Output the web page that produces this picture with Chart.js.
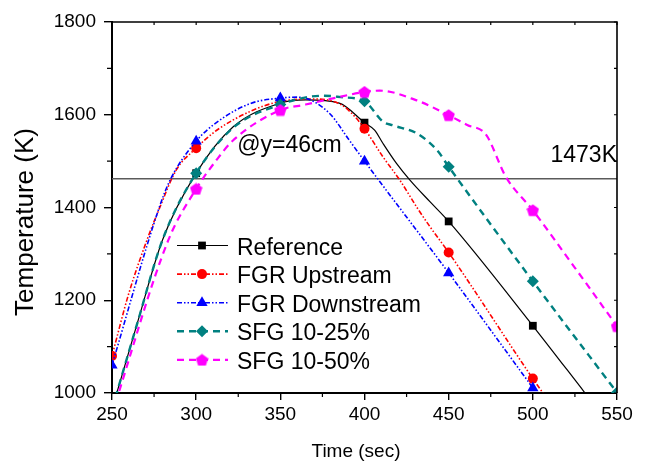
<!DOCTYPE html>
<html>
<head>
<meta charset="utf-8">
<script src="https://cdn.jsdelivr.net/npm/chart.js@4.4.1/dist/chart.umd.min.js"></script>
<style>
  html, body { margin: 0; padding: 0; background: #fff; }
  #wrap { width: 650px; height: 466px; }
</style>
</head>
<body>
<div id="wrap"><canvas id="tempChart" width="650" height="466"></canvas></div>
<script>
'use strict';

// ---- data (time in sec, temperature in K) ----
const refX = [250, 265, 280, 300, 322, 350, 365, 385, 400, 406, 411, 419, 427, 439, 450, 500, 531];
const refY = [965, 1150, 1330, 1474, 1574, 1625, 1632, 1625, 1583, 1567, 1538, 1495, 1459, 1412, 1370, 1145, 1000];

const upX = [250, 260, 271, 278.5, 288, 300, 312, 332, 349, 370, 386, 394, 400, 411, 421, 431, 439, 450, 500, 506];
const upY = [1080, 1215, 1332, 1401, 1480, 1528, 1566, 1607, 1628, 1634, 1622, 1597, 1570, 1509, 1459, 1401, 1358, 1303, 1031, 1000];

const downX = [250, 277.5, 284.5, 300, 312, 332, 350, 360, 369, 380, 390, 400, 450, 500];
const downY = [1060, 1394, 1459, 1543, 1583, 1624, 1636, 1638, 1630, 1600, 1550, 1500, 1259, 1011];

const sfg25X = [250, 265, 280, 300, 322, 350, 366, 376, 386, 400, 411, 417, 431, 443, 450, 500, 550];
const sfg25Y = [965, 1150, 1330, 1474, 1572, 1622, 1638, 1641, 1638, 1629, 1585, 1577, 1560, 1524, 1488, 1241, 1001];

const sfg50X = [250, 283.5, 300, 312, 322, 350, 365, 382, 400, 409, 431, 450, 461, 472, 484, 500, 525, 550];
const sfg50Y = [955, 1330, 1440, 1502, 1545, 1610, 1622, 1636, 1649, 1652, 1631, 1599, 1578, 1558, 1466, 1394, 1270, 1144];

const seriesNames = ['Reference', 'FGR Upstream', 'FGR Downstream', 'SFG 10-25%', 'SFG 10-50%'];

// horizontal reference line (drawn level in the figure, labelled 1473K)
const limitX = [250, 550];
const limitY = [1462, 1462];
const limitText = '1473K';
const heightText = '@y=46cm';

const xTicks = [250, 300, 350, 400, 450, 500, 550];
const yTicks = [1000, 1200, 1400, 1600, 1800];
const xTitle = 'Time (sec)';
const yTitle = 'Temperature (K)';

// ---- helpers ----
const pts = (xs, ys) => xs.map((x, i) => ({ x, y: ys[i] }));
// markers only at the 50 s stations that sit inside the frame
const markAt = (r) => (ctx) => {
  const p = ctx.raw;
  return p && p.x % 50 === 0 && p.y >= 995 ? r : 0;
};

function pentagon(size, color) {
  const c = document.createElement('canvas');
  c.width = c.height = size;
  const g = c.getContext('2d');
  const r = size / 2, cx = size / 2, cy = size / 2 + 0.6;
  g.fillStyle = color;
  g.beginPath();
  for (let i = 0; i < 5; i++) {
    const a = -Math.PI / 2 + i * 2 * Math.PI / 5;
    const px = cx + r * Math.cos(a), py = cy + r * Math.sin(a);
    i ? g.lineTo(px, py) : g.moveTo(px, py);
  }
  g.closePath();
  g.fill();
  return c;
}

const FONT = '"Liberation Sans", Arial, Helvetica, sans-serif';
const magentaPent = pentagon(13, '#ff00ff');

const styles = [
  { color: '#000000', dash: [], width: 1.2, point: 'rect', r: 5.5 },
  { color: '#ff0000', dash: [5, 2, 1.5, 2, 1.5, 2], width: 1.6, point: 'circle', r: 5 },
  { color: '#0000ff', dash: [5, 2, 1.5, 2, 1.5, 2], width: 1.6, point: 'triangle', r: 6.5 },
  { color: '#008080', dash: [7, 5], width: 2.4, point: 'rectRot', r: 6 },
  { color: '#ff00ff', dash: [7, 5], width: 2.2, point: magentaPent, r: 6.5 },
];
const series = [pts(refX, refY), pts(upX, upY), pts(downX, downY), pts(sfg25X, sfg25Y), pts(sfg50X, sfg50Y)];

const datasets = series.map((data, i) => {
  const s = styles[i];
  return {
    label: seriesNames[i],
    data,
    borderColor: s.color,
    backgroundColor: s.color,
    borderWidth: s.width,
    borderDash: s.dash,
    cubicInterpolationMode: 'monotone',
    pointStyle: s.point,
    pointRadius: markAt(s.r),
    pointBorderWidth: 0,
    pointHoverRadius: 0,
    clip: 0,
    order: 5 - i,
  };
});
datasets.unshift({
  label: limitText,
  data: pts(limitX, limitY),
  borderColor: '#5a5a5a',
  borderWidth: 1.5,
  pointRadius: 0,
  clip: 0,
  order: 10,
});

// frame, minor ticks, axis titles, annotation text and in-plot legend
const decorPlugin = {
  id: 'decor',
  afterDraw(chart) {
    const { ctx, chartArea: a, scales: { x, y } } = chart;
    ctx.save();
    ctx.strokeStyle = '#000';
    ctx.lineWidth = 1.6;
    ctx.beginPath();
    ctx.moveTo(a.left, a.top); ctx.lineTo(a.right, a.top); ctx.lineTo(a.right, a.bottom);
    ctx.stroke();

    ctx.lineWidth = 1.2;
    ctx.beginPath();
    for (let v = 250; v <= 550; v += 25) {
      const px = x.getPixelForValue(v);
      if (v % 50) { ctx.moveTo(px, a.bottom); ctx.lineTo(px, a.bottom + 4); }
      ctx.moveTo(px, a.top); ctx.lineTo(px, a.top + 3);
    }
    for (let v = 1000; v <= 1800; v += 100) {
      const py = y.getPixelForValue(v);
      if (v % 200) { ctx.moveTo(a.left, py); ctx.lineTo(a.left - 5, py); }
      ctx.moveTo(a.right, py); ctx.lineTo(a.right - 3, py);
    }
    ctx.stroke();

    ctx.fillStyle = '#000';
    // axis titles
    ctx.textBaseline = 'alphabetic';
    ctx.textAlign = 'center';
    ctx.font = '19px ' + FONT;
    ctx.fillText(xTitle, 356, 457);
    ctx.save();
    ctx.translate(33, 222);
    ctx.rotate(-Math.PI / 2);
    ctx.font = '26px ' + FONT;
    ctx.fillText(yTitle, 0, 0);
    ctx.restore();

    // annotations
    ctx.font = '23px ' + FONT;
    ctx.textAlign = 'left';
    ctx.fillText(heightText, x.getPixelForValue(325) - 1, y.getPixelForValue(1520));
    ctx.textAlign = 'right';
    ctx.fillText(limitText, a.right, y.getPixelForValue(1498));

    // legend
    const lx0 = 177, lx1 = 228, mx = 202, tx = 237;
    ctx.textAlign = 'left';
    chart.data.datasets.slice(1).forEach((ds, i) => {
      const s = styles[i];
      const ly = 245.5 + i * 28.6;
      ctx.strokeStyle = s.color;
      ctx.lineWidth = s.width;
      ctx.setLineDash(s.dash);
      ctx.beginPath();
      ctx.moveTo(lx0, ly); ctx.lineTo(lx1, ly);
      ctx.stroke();
      ctx.setLineDash([]);
      ctx.fillStyle = s.color;
      Chart.helpers.drawPoint(ctx, { pointStyle: s.point, radius: s.r, rotation: 0, borderWidth: 0 }, mx, ly);
      ctx.fillStyle = '#000';
      ctx.fillText(ds.label, tx, ly + 9);
    });
    ctx.restore();
  }
};

new Chart(document.getElementById('tempChart'), {
  type: 'line',
  data: { datasets },
  options: {
    responsive: false,
    animation: false,
    devicePixelRatio: 1,
    layout: { padding: { top: 22, right: 33, left: 0, bottom: 0 } },
    plugins: { legend: { display: false }, tooltip: { enabled: false } },
    scales: {
      x: {
        type: 'linear',
        min: 250, max: 550,
        afterFit: (s) => { s.height = 73; },
        afterBuildTicks: (s) => { s.ticks = xTicks.map(v => ({ value: v })); },
        ticks: { color: '#000', font: { family: FONT, size: 19 }, padding: 3, maxRotation: 0, callback: (v) => String(v) },
        grid: { drawOnChartArea: false, tickLength: 7, color: '#000', lineWidth: 1.4 },
        border: { color: '#000', width: 2 },
      },
      y: {
        min: 1000, max: 1800,
        afterFit: (s) => { s.width = 112; },
        afterBuildTicks: (s) => { s.ticks = yTicks.map(v => ({ value: v })); },
        ticks: { color: '#000', font: { family: FONT, size: 19 }, padding: 8, callback: (v) => String(v) },
        grid: { drawOnChartArea: false, tickLength: 8, color: '#000', lineWidth: 1.4 },
        border: { color: '#000', width: 2 },
      },
    },
  },
  plugins: [decorPlugin],
});
</script>
</body>
</html>
